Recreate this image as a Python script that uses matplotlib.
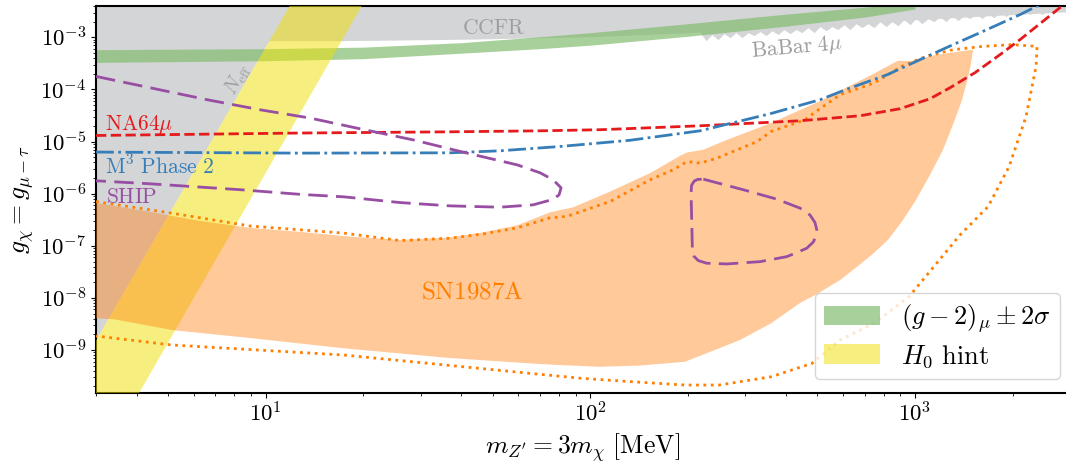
import numpy as np
import matplotlib
matplotlib.use('Agg')
import matplotlib.pyplot as plt
from matplotlib.ticker import LogLocator, FuncFormatter, NullFormatter

plt.rcParams.update({'mathtext.fontset': 'cm', 'axes.linewidth': 1.5,
                     'font.size': 15.5})

# -- data (m in MeV, g dimensionless) -----------------------------------------
# (g-2)_mu +- 2 sigma band
gm2_m  = [3, 10, 20, 40, 70, 100, 200, 400, 700, 1000]
gm2_hi = [5.8e-4, 6.07e-4, 6.5e-4, 7.9e-4, 1.03e-3, 1.23e-3, 1.83e-3, 2.79e-3, 3.8e-3, 4.65e-3]
gm2_lo = [3.31e-4, 3.56e-4, 3.9e-4, 4.97e-4, 6.07e-4, 7.08e-4, 1.05e-3, 1.64e-3, 2.45e-3, 3.5e-3]

# CCFR lower edge (excluded above)
ccfr_m = [3, 17, 42, 100, 200, 400, 1000, 3000]
ccfr_g = [8.45e-4, 8.64e-4, 9.23e-4, 1.03e-3, 1.23e-3, 1.54e-3, 2.19e-3, 3.12e-3]

# BaBar 4mu lower edge (jagged)
babar_m = [217.7, 227.2, 237.1, 247.4, 258.1, 269.4, 281.1, 293.3, 306.0, 319.3,
           333.2, 347.7, 362.8, 378.6, 395.1, 412.2, 430.1, 448.8, 468.4, 488.8,
           510.0, 532.1, 555.3, 579.4, 604.6, 630.8, 658.2, 686.9, 716.8, 747.9,
           780.4, 814.3, 849.8, 886.7, 925.3, 965.4, 1007.4, 1051.2, 1096.9, 1144.7,
           1194.4, 1246.3, 1300.5, 1357.1, 1416.1, 1477.5, 1541.7, 1608.8, 1678.8, 1751.8,
           1827.7, 1907.3, 1990.4, 2077.1, 2167.4, 2261.0, 2359.6, 2462.1, 2569.1, 2680.7,
           2797.1, 2919.1, 3046]
babar_g = [1.23e-3, 8.64e-4, 1.13e-3, 9.03e-4, 1.18e-3, 9.87e-4, 1.23e-3, 9.87e-4, 1.23e-3, 1.08e-3,
           1.29e-3, 1.08e-3, 1.34e-3, 1.13e-3, 1.41e-3, 1.18e-3, 1.41e-3, 1.23e-3, 1.54e-3, 1.23e-3,
           1.61e-3, 1.34e-3, 1.61e-3, 1.41e-3, 1.75e-3, 1.41e-3, 1.83e-3, 1.54e-3, 1.83e-3, 1.54e-3,
           2.00e-3, 1.61e-3, 2.00e-3, 1.68e-3, 2.19e-3, 1.75e-3, 2.29e-3, 1.83e-3, 2.29e-3, 2.00e-3,
           2.50e-3, 2.00e-3, 2.61e-3, 2.09e-3, 2.61e-3, 2.29e-3, 2.85e-3, 2.29e-3, 2.85e-3, 2.39e-3,
           3.12e-3, 2.50e-3, 3.12e-3, 2.61e-3, 3.26e-3, 2.73e-3, 3.40e-3, 2.73e-3, 3.40e-3, 2.98e-3,
           3.56e-3, 2.98e-3, 3.72e-3]

# N_eff edge and H0 hint band (straight in log-log)
neff_g = [1e-11, 1e-2]
neff_m = [1.88, 12.9]
h0_g  = [1e-11, 1e-2]
h0_lo = [1.88, 12.9]
h0_hi = [3.17, 21.5]

# SN1987A region: upper edge (left->right), then right/lower edge (right->left)
sn_up_m = [3.0, 4.40, 6.27, 8.95, 12.76, 18.18, 25.93, 36.97, 46.72, 59.46, 75.12, 88.45,
           107.1, 115.0, 152.8, 188.9, 198.6, 222.4, 263.7, 360.4, 521.0, 587.7, 727.0,
           887.0, 965.7, 1170, 1510]
sn_up_g = [6.67e-7, 4.48e-7, 3.01e-7, 2.21e-7, 1.85e-7, 1.50e-7, 1.30e-7, 1.45e-7, 1.81e-7,
           2.47e-7, 4.38e-7, 5.47e-7, 9.09e-7, 1.10e-6, 2.48e-6, 5.34e-6, 6.17e-6, 6.96e-6,
           1.08e-5, 2.27e-5, 6.36e-5, 9.46e-5, 1.84e-4, 3.57e-4, 3.49e-4, 4.65e-4, 5.80e-4]
sn_low_m = [1480, 1440, 1397, 1320, 1220, 1112.6, 1008, 919, 826.0, 740, 677.2, 587.7, 500,
            442.5, 360.4, 289.2, 249.2, 195.7, 142.3, 106.4, 80.64, 65.21, 36.97, 17.42,
            8.95, 5.14, 3.41, 3.0]
sn_low_g = [2.6e-4, 1.3e-4, 6.36e-5, 2.4e-5, 6.96e-6, 2.30e-6, 7.62e-7, 3.15e-7, 1.30e-7,
            6.9e-8, 4.4e-8, 2.2e-8, 1.2e-8, 8.00e-9, 3.26e-9, 1.56e-9, 1.08e-9, 5.96e-10,
            5.04e-10, 4.78e-10, 5.15e-10, 5.55e-10, 7.02e-10, 1.08e-9, 1.70e-9, 2.42e-9,
            3.89e-9, 4.06e-9]

# SN1987A dotted contour
sn_dot_m = [3.0, 5.14, 8.95, 17.42, 25.93, 36.97, 46.72, 59.46, 75.12, 84.77, 107.1, 115.0,
            152.8, 179.8, 198.6, 217.7, 245.7, 275.1, 326.2, 360.4, 458.5, 495.7, 587.7,
            748.2, 919.0, 1082, 1310, 1621, 1991, 2378, 2361, 2199, 1950, 1680, 1377, 959.0,
            748.2, 587.7, 481.9, 360.4, 249.2, 195.7, 135.4, 94.28, 65.21, 17.42, 5.14, 3.0]
sn_dot_g = [7.07e-7, 4.23e-7, 2.40e-7, 1.75e-7, 1.26e-7, 1.40e-7, 1.69e-7, 2.21e-7, 3.44e-7,
            3.67e-7, 6.11e-7, 7.07e-7, 1.85e-6, 2.87e-6, 4.15e-6, 3.86e-6, 4.82e-6, 6.45e-6,
            1.00e-5, 1.56e-5, 2.62e-5, 3.79e-5, 7.93e-5, 1.33e-4, 2.86e-4, 4.31e-4, 5.80e-4,
            6.72e-4, 7.24e-4, 6.72e-4, 2.77e-4, 3.04e-5, 3.32e-6, 5.66e-7, 1.62e-7, 1.06e-8,
            3.26e-9, 1.56e-9, 5.55e-10, 3.07e-10, 2.13e-10, 2.13e-10, 2.46e-10, 2.86e-10,
            3.57e-10, 8.02e-10, 1.25e-9, 1.86e-9]

# NA64mu projection
na64_m = [3.0, 12.76, 36.97, 69.98, 107.1, 217.7, 442.5, 677.2, 899.4, 1112.6, 1282.2,
          1530.6, 1827.7, 2106.2, 2427.2, 2797.1, 3002.6]
na64_g = [1.31e-5, 1.46e-5, 1.54e-5, 1.61e-5, 1.69e-5, 2.01e-5, 2.51e-5, 3.13e-5, 4.27e-5,
          6.64e-5, 1.08e-4, 2.10e-4, 4.65e-4, 9.03e-4, 1.83e-3, 3.72e-3, 4.85e-3]

# M^3 Phase 2 projection
m3_m = [3.0, 12.76, 36.97, 52.7, 80.6, 132.5, 217.7, 357.7, 510.0, 618.6, 821.4, 1036.4,
        1309.6, 1666.9, 2106.2, 2427.2]
m3_g = [6.29e-6, 6.01e-6, 6.09e-6, 6.66e-6, 8.05e-6, 1.06e-5, 1.61e-5, 3.42e-5, 6.36e-5,
        1.02e-4, 1.92e-4, 3.73e-4, 7.24e-4, 1.41e-3, 2.73e-3, 4.25e-3]

# SHIP projection (open contour) and closed island
ship_m = [3.0, 4.40, 6.60, 9.60, 13.69, 19.52, 28.43, 41.71, 59.46, 69.98, 76.76, 81.23,
          80.10, 76.76, 66.60, 52.71, 36.97, 25.93, 17.42, 12.76, 8.39, 4.40, 3.0]
ship_g = [1.78e-4, 1.08e-4, 6.36e-5, 4.08e-5, 2.83e-5, 1.76e-5, 1.08e-5, 6.01e-6, 3.58e-6,
          2.52e-6, 1.85e-6, 1.30e-6, 9.51e-7, 7.79e-7, 6.11e-7, 5.51e-7, 5.84e-7, 6.76e-7,
          8.70e-7, 9.72e-7, 1.19e-6, 1.55e-6, 1.77e-6]
loop_m = [222.9, 296.0, 375.2, 442.5, 475.0, 492.0, 498.3, 496.0, 486.0, 464.1, 430.0,
          402.9, 333.3, 263.2, 228.4, 215.0, 208.5, 206.2, 205.3, 204.3, 205.0, 209.0,
          214.0, 222.9]
loop_g = [1.90e-6, 1.19e-6, 7.86e-7, 5.28e-7, 3.9e-7, 2.8e-7, 2.02e-7, 1.55e-7, 1.18e-7,
          8.99e-8, 7.3e-8, 6.20e-8, 4.97e-8, 4.49e-8, 4.63e-8, 5.2e-8, 6.3e-8, 8.34e-8,
          2.72e-7, 1.02e-6, 1.45e-6, 1.75e-6, 1.88e-6, 1.90e-6]

GRAY   = '#d4d5d7'
TXTG   = '#9e9e9e'
RED    = '#e41a1c'
BLUE   = '#377eb8'
PURPLE = '#984ea3'
ORANGE = '#ff7f00'

# -- figure ------------------------------------------------------------------
fig = plt.figure(figsize=(10.66, 4.68), dpi=100)
ax = fig.add_axes([0.0901, 0.1603, 0.9135, 0.8269])
ax.set_xscale('log')
ax.set_yscale('log')
ax.set_xlim(3, 3000)
ax.set_ylim(1.5e-10, 4e-3)

# excluded regions (gray)
ax.fill_between(ccfr_m, ccfr_g, 1, color=GRAY, lw=0, zorder=1)
ax.fill_between(babar_m, babar_g, 1, color=GRAY, lw=0, zorder=1)
ax.fill_betweenx(neff_g, 1, neff_m, color=GRAY, lw=0, zorder=1)

gm2 = ax.fill_between(gm2_m, gm2_lo, gm2_hi, color='#84bc70', alpha=0.7, lw=0,
                      zorder=2, label=r'$(g-2)_\mu \pm 2\sigma$')
h0 = ax.fill_betweenx(h0_g, h0_lo, h0_hi, color='#efe000', alpha=0.5, lw=0,
                      zorder=3, label=r'$H_0\ \mathrm{hint}$')

ax.fill(sn_up_m + sn_low_m, sn_up_g + sn_low_g, color='#ff7f0e', alpha=0.42, lw=0, zorder=4)
ax.plot(sn_dot_m, sn_dot_g, color=ORANGE, ls=':', lw=2, zorder=5)

ax.plot(na64_m, na64_g, color=RED, ls='--', lw=2, zorder=6)
ax.plot(m3_m, m3_g, color=BLUE, ls='-.', lw=2, zorder=6)
ax.plot(ship_m, ship_g, color=PURPLE, lw=2, dashes=(7, 3), zorder=6)
ax.plot(loop_m, loop_g, color=PURPLE, lw=2, dashes=(7, 3), zorder=6)

# labels
ax.text(50.2, 1.54e-3, r'$\mathrm{CCFR}$', color=TXTG, ha='center', va='center', zorder=7)
ax.text(433, 6.34e-4, r'$\mathrm{BaBar}\ 4\mu$', color=TXTG, ha='center', va='center',
        rotation=5, zorder=7)
ax.text(8.22, 1.54e-4, r'$N_{\rm eff}$', color=TXTG, ha='center', va='center',
        rotation=60, fontsize=14, zorder=7)
ax.text(3.2, 1.65e-5, r'$\mathrm{NA64}\mu$', color=RED, va='baseline', zorder=7)
ax.text(3.2, 2.41e-6, r'$\mathrm{M}^3\ \mathrm{Phase\ 2}$', color=BLUE, va='baseline', zorder=7)
ax.text(3.22, 6.76e-7, r'$\mathrm{SHIP}$', color=PURPLE, va='baseline', zorder=7)
ax.text(43.2, 9.85e-9, r'$\mathrm{SN1987A}$', color=ORANGE, ha='center', va='baseline',
        fontsize=18, zorder=7)

# axes styling
dec = FuncFormatter(lambda v, pos: r'$10^{%d}$' % int(round(np.log10(v))))
for axis in (ax.xaxis, ax.yaxis):
    axis.set_major_locator(LogLocator(base=10, numticks=20))
    axis.set_minor_locator(LogLocator(base=10, subs=np.arange(2, 10), numticks=20))
    axis.set_major_formatter(dec)
    axis.set_minor_formatter(NullFormatter())
ax.tick_params(which='both', labelsize=16.5)
ax.spines['right'].set_visible(False)

ax.set_xlabel(r"$m_{Z'} = 3m_\chi\ [\mathrm{MeV}]$", fontsize=18.5, labelpad=3)
ax.set_ylabel(r'$g_\chi = g_{\mu-\tau}$', fontsize=18.5, labelpad=3)

ax.legend(handles=[gm2, h0], loc='lower right', bbox_to_anchor=(0.990, 0.036),
          borderaxespad=0, fontsize=19, handlelength=2.1, handleheight=0.75,
          labelspacing=0.3, borderpad=0.35)

fig.savefig('out.png', dpi=100)
